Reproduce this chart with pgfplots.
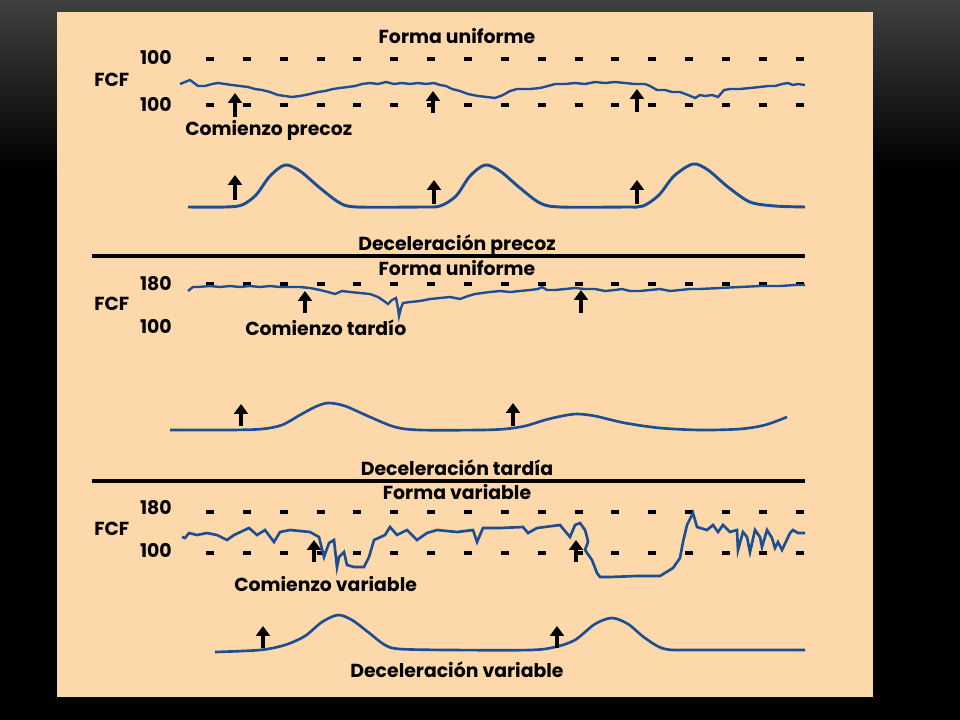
\documentclass[border=0pt]{standalone}
\usepackage{pgfplots}
\pgfplotsset{compat=1.18}
\usepackage{fontspec}
\setmainfont{Poppins}
\usetikzlibrary{arrows.meta}
\definecolor{peach}{HTML}{FDD8AA}
\definecolor{trace}{HTML}{1C4E94}
\definecolor{topgray}{HTML}{404040}

\tikzset{
  lbl/.style={font=\bfseries\fontsize{14.2}{16}\selectfont, inner sep=0pt, text=black},
  arr/.style={black, line width=2.6pt, -{Triangle[width=10.5pt,length=7.5pt]}},
  dashrow/.style={black, line width=2.3pt, dash pattern=on 6pt off 21.75pt},
}

\begin{document}
\begin{tikzpicture}
\begin{axis}[
  scale only axis, width=10in, height=7.5in,
  xmin=0, xmax=960, ymin=0, ymax=720, y dir=reverse,
  hide axis, clip=false,
]
% background
\fill[black] (axis cs:0,0) rectangle (axis cs:960,720);
\shade[top color=topgray, bottom color=black] (axis cs:0,0) rectangle (axis cs:960,170);
\fill[peach] (axis cs:57,12) rectangle (axis cs:873,697);

% ---------- panel 1 ----------
\addplot[dashrow] coordinates {(206,59) (806,59)};
\addplot[dashrow] coordinates {(206,105) (806,105)};
\addplot[trace, line width=1.8pt] coordinates {
 (180,84) (185,82) (190,80) (194,83) (198,86) (205,86) (212,84) (218,83)
 (225,84) (232,85) (240,86) (248,87) (255,89) (262,90) (270,92) (278,95)
 (285,96) (292,97) (300,96) (310,94) (318,92) (325,91) (333,89) (340,88)
 (348,87) (355,86) (362,84) (370,83) (378,84) (386,82) (394,84) (402,83)
 (410,84) (418,83) (426,84) (434,83) (440,85) (446,86) (452,89) (460,91)
 (468,94) (478,96) (487,97) (495,98) (503,95) (510,91) (517,89) (530,89)
 (540,88) (548,86) (555,84) (565,84) (575,83) (585,84) (595,82) (605,83)
 (615,82) (625,83) (635,84) (645,84) (650,86) (657,90) (665,90) (672,92)
 (680,92) (688,95) (695,98) (700,95) (705,96) (712,95) (718,97) (724,90)
 (730,89) (740,89) (750,88) (760,87) (768,86) (775,86) (782,84) (788,83)
 (793,85) (798,84) (805,85)};
\addplot[trace, line width=2.2pt, smooth, tension=0.5] coordinates {
 (188,207) (225,207) (242,205) (256,195) (270,176) (285,165) (300,171)
 (320,188) (340,203) (357,207) (420,207) (440,206) (456,196) (470,176)
 (485,165) (500,171) (520,188) (540,203) (560,207) (625,207) (643,206)
 (659,195) (674,176) (693,164) (708,170) (728,187) (750,202) (775,206)
 (805,207)};
\addplot[arr] coordinates {(235,117) (235,93)};
\addplot[arr] coordinates {(433,113) (433,91)};
\addplot[arr] coordinates {(637,112) (637,89)};
\addplot[arr] coordinates {(235,200) (235,175)};
\addplot[arr] coordinates {(434,204) (434,180)};
\addplot[arr] coordinates {(637,204) (637,180)};
\node[lbl] at (axis cs:457,36) {Forma uniforme};
\node[lbl, anchor=east] at (axis cs:172,57) {100};
\node[lbl, anchor=west] at (axis cs:94,80) {FCF};
\node[lbl, anchor=east] at (axis cs:172,104) {100};
\node[lbl, anchor=west] at (axis cs:185,130) {Comienzo precoz};
\node[lbl] at (axis cs:457,245) {Deceleración precoz};
\addplot[black, line width=2.3pt] coordinates {(92,256) (805,256)};

% ---------- panel 2 ----------
\addplot[dashrow] coordinates {(206,284) (806,284)};
\addplot[trace, line width=1.8pt] coordinates {
 (188,291) (193,287) (198,287) (210,286) (220,287) (230,286) (240,287)
 (250,286) (260,287) (270,286) (280,287) (290,287) (300,287) (310,288)
 (320,290) (328,292) (335,294) (342,291) (350,292) (360,293) (370,294)
 (378,297) (384,301) (388,304) (392,300) (396,298) (398,308) (399,316)
 (401,308) (403,303) (410,302) (420,301) (430,299) (440,298) (450,297)
 (460,299) (468,296) (475,294) (482,293) (490,292) (500,291) (510,292)
 (520,291) (530,290) (538,289) (542,287) (547,290) (555,290) (565,289)
 (575,288) (585,289) (595,289) (605,291) (615,290) (622,289) (630,291)
 (640,291) (650,290) (660,289) (670,291) (680,290) (690,289) (700,289)
 (720,288) (740,287) (760,286) (780,286) (795,285) (805,285)};
\addplot[trace, line width=2pt, smooth, tension=0.5] coordinates {
 (170,430) (230,430) (262,429) (282,425) (300,415) (315,407) (328,403)
 (345,406) (370,417) (395,427) (420,430) (480,430) (505,429) (525,426)
 (545,420) (562,416) (577,414) (595,416) (625,423) (660,428) (700,430)
 (740,429) (765,425) (787,417)};
\addplot[arr] coordinates {(305,313) (305,291)};
\addplot[arr] coordinates {(581,313) (581,290)};
\addplot[arr] coordinates {(241,426) (241,404)};
\addplot[arr] coordinates {(513,426) (513,403)};
\node[lbl] at (axis cs:457,268) {Forma uniforme};
\node[lbl, anchor=east] at (axis cs:172,284) {180};
\node[lbl, anchor=west] at (axis cs:94,304) {FCF};
\node[lbl, anchor=east] at (axis cs:172,326) {100};
\node[lbl, anchor=west] at (axis cs:245,328) {Comienzo tardío};
\node[lbl] at (axis cs:457,468) {Deceleración tardía};
\addplot[black, line width=2.3pt] coordinates {(92,481) (805,481)};

% ---------- panel 3 ----------
\addplot[dashrow] coordinates {(206,512) (806,512)};
\addplot[dashrow] coordinates {(206,553) (806,553)};
\addplot[trace, line width=2pt] coordinates {
 (182,537) (185,538) (189,533) (197,535) (207,533) (217,535) (227,540)
 (234,535) (249,528) (257,535) (265,530) (274,542) (280,532) (290,530)
 (310,532) (319,537) (324,557) (329,543) (334,540) (337,567) (339,557)
 (344,552) (347,565) (354,567) (364,567) (369,557) (374,540) (385,535)
 (390,527) (397,535) (407,530) (417,540) (427,533) (437,530) (457,532)
 (473,530) (477,542) (483,528) (500,528) (523,527) (528,533) (537,528)
 (560,525) (570,537) (575,525) (580,523) (585,530) (587,537) (588,542)
 (585,550) (592,560) (597,573) (600,577) (610,577) (637,576) (660,576)
 (673,568) (680,558) (683,542) (687,525) (693,513) (697,527) (707,530)
 (713,525) (718,532) (723,525) (730,532) (737,530) (738,550) (743,532)
 (747,537) (750,552) (755,530) (760,537) (762,547) (767,530) (772,538)
 (775,548) (778,542) (782,550) (790,533) (793,530) (798,533) (805,533)};
\addplot[trace, line width=2pt, smooth, tension=0.5] coordinates {
 (215,652) (260,650) (285,645) (305,636) (322,622) (338,615) (352,620)
 (368,632) (385,645) (400,649) (450,650) (530,650) (555,647) (575,640)
 (595,624) (612,618) (628,624) (645,638) (665,649) (700,650) (805,650)};
\addplot[arr] coordinates {(314,562) (314,540)};
\addplot[arr] coordinates {(576,562) (576,540)};
\addplot[arr] coordinates {(263,648) (263,626)};
\addplot[arr] coordinates {(557,648) (557,626)};
\node[lbl] at (axis cs:457,492) {Forma variable};
\node[lbl, anchor=east] at (axis cs:172,508) {180};
\node[lbl, anchor=west] at (axis cs:94,529) {FCF};
\node[lbl, anchor=east] at (axis cs:172,550) {100};
\node[lbl, anchor=west] at (axis cs:234,584) {Comienzo variable};
\node[lbl] at (axis cs:457,670) {Deceleración variable};
\end{axis}
\end{tikzpicture}
\end{document}
